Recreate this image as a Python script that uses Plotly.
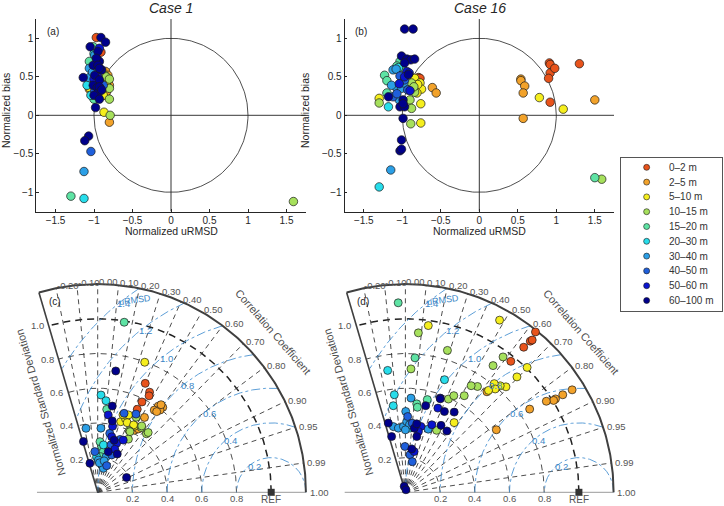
import numpy as np
import plotly.graph_objects as go

FONT = "Liberation Sans, Arial, Helvetica, sans-serif"
W, H = 724, 506

# ---------------- data ----------------
depth_labels = ["0–2 m", "2–5 m", "5–10 m", "10–15 m", "15–20 m",
                "20–30 m", "30–40 m", "40–50 m", "50–60 m", "60–100 m"]
depth_colors = ["#E8531B", "#F2A22A", "#F5EE1E", "#A6E05C", "#5EE3A4",
                "#27DDEB", "#2B9FE6", "#1F5FDB", "#0A14CF", "#00008B"]

# (a) Case 1 target diagram
a_urmsd = [-0.97, -0.91,
           -0.85, -0.82, -1.06, -0.82, -0.80, -0.86, -0.85, -0.80, -0.84, -0.88,
           -1.06, -0.88, -0.87, -0.84, -0.90,
           -0.86, -0.84, -0.80, -0.80, -0.79, -0.80, 1.59,
           -1.01, -1.06, -1.00, -1.30, -0.98,
           -1.09, -1.04, -1.00, -1.13,
           -0.99, -1.06, -1.06, -1.02, -1.13, -0.94,
           -0.97, -0.99, -0.88, -0.99, -1.04, -0.95,
           -0.95, -0.93, -0.96, -0.92, -1.00,
           -0.91, -0.85, -1.05, -0.95, -0.93, -1.01, -0.90, -0.99, -1.14, -0.93, -1.01, -0.96,
           -0.95, -1.00, -0.93, -0.98, -1.07, -1.12, -0.97, -0.93, -0.90, -0.95, -0.93]
a_bias = [1.01, 0.82,
          0.57, 0.52, 0.34, 0.44, 0.39, 0.34, 0.26, -0.09, 0.30, 0.48,
          0.36, 0.26, 0.04, 0.42, 0.33,
          0.52, 0.50, 0.35, 0.21, 0.00, 0.47, -1.12,
          0.89, 0.70, 0.21, -1.05, 0.60,
          0.39, 0.26, 0.80, -1.08,
          0.78, 0.49, 0.61, 0.56, -0.73, 0.42,
          0.63, 0.44, 0.39, 0.32, -0.47, 0.25,
          0.50, 0.87, 0.73, 0.35, 0.47,
          1.01, 0.95, 0.89, 0.83, 0.70, 0.65, 0.59, 0.52, 0.49, 0.46, 0.39, 0.36,
          0.29, 0.26, 0.21, 0.10, -0.27, -0.33, 0.74, 0.37, 0.33, 0.65, 0.61]
a_depth = [0, 0,
           1, 1, 1, 1, 1, 1, 1, 1, 1, 1,
           2, 2, 2, 2, 2,
           3, 3, 3, 3, 3, 3, 3,
           4, 4, 4, 4, 4,
           5, 5, 5, 5,
           6, 6, 6, 6, 6, 6,
           7, 7, 7, 7, 7, 7,
           8, 8, 8, 8, 8,
           9, 9, 9, 9, 9, 9, 9, 9, 9, 9, 9, 9, 9, 9, 9, 9, 9, 9, 9, 9, 9, 9, 9]

# (b) Case 16 target diagram
b_urmsd = [-0.79, -0.77, 0.91, 0.92, 0.92, 0.98, 0.90, 1.30, 0.92,
           -0.61, -0.56, 0.54, 0.54, 0.59, 0.57, 0.57, 1.50,
           -0.84, -0.77, -0.75, -0.81, -1.30, -0.76, -0.76, 0.78, 1.09, -0.80,
           -0.88, -0.84, -0.90, -1.30, -0.88, -0.89, 1.59, -0.85,
           -1.03, -1.07, -1.23, -1.20, -1.20, 1.50, -1.00,
           -1.18, -1.30, -1.05,
           -1.12, -1.08, -1.07, -1.01, -1.14, -1.04, -1.15, -0.98,
           -1.03, -0.97, -1.12, -1.07, -0.93,
           -0.94, -0.91, -1.04, -0.97, -0.90,
           -0.97, -0.86, -1.01, -0.94, -0.89, -0.84, -0.97, -1.18, -1.03, -0.97, -0.99,
           -0.99, -1.01, -1.03, -1.01, -0.92, -0.99]
b_bias = [0.49, 0.48, 0.68, 0.66, 0.55, 0.61, 0.48, 0.67, 0.17,
          0.36, 0.29, 0.47, 0.45, 0.38, 0.29, -0.04, 0.20,
          0.48, 0.42, 0.34, 0.29, 0.22, 0.15, -0.10, 0.23, 0.08, 0.40,
          0.42, 0.30, 0.20, 0.16, 0.09, -0.11, -0.83, 0.37,
          0.70, 0.64, 0.52, 0.45, 0.29, -0.81, 0.62,
          0.11, -0.93, 0.62,
          0.59, 0.60, 0.35, 0.35, 0.39, 0.20, -0.71, 0.42,
          0.51, 0.46, 0.24, 0.28, 0.33,
          0.57, 0.55, 0.41, 0.50, 0.32,
          1.12, 1.12, 0.77, 0.73, 0.72, 0.73, 0.68, 0.24, 0.11, 0.11, 0.20,
          -0.04, -0.32, -0.46, -0.44, 0.53, 0.15]
b_depth = [0, 0, 0, 0, 0, 0, 0, 0, 0,
           1, 1, 1, 1, 1, 1, 1, 1,
           2, 2, 2, 2, 2, 2, 2, 2, 2, 2,
           3, 3, 3, 3, 3, 3, 3, 3,
           4, 4, 4, 4, 4, 4, 4,
           5, 5, 5,
           6, 6, 6, 6, 6, 6, 6, 6,
           7, 7, 7, 7, 7,
           8, 8, 8, 8, 8,
           9, 9, 9, 9, 9, 9, 9, 9, 9, 9, 9, 9, 9, 9, 9, 9, 9]

# (c) Case 1 Taylor diagram
c_std = [0.685, 0.65, 0.63, 0.58, 0.53,
         0.607, 0.617, 0.575, 0.595, 0.576, 0.623, 0.509, 0.416, 0.434,
         0.797, 0.428, 0.455, 0.48, 0.436, 0.438, 0.44, 0.47,
         0.399, 0.354, 0.45, 0.439, 0.451, 0.486, 0.459, 0.396,
         0.992, 0.481, 0.264, 0.292, 0.236, 0.206,
         0.561, 0.53, 0.205, 0.275,
         0.375, 0.37, 0.21, 0.186, 0.159, 0.142, 0.17, 0.185,
         0.48, 0.347, 0.331, 0.284, 0.23, 0.162, 0.235, 0.502,
         0.33, 0.303, 0.267, 0.335, 0.45, 0.39,
         0.707, 0.504, 0.304, 0.315, 0.242, 0.248, 0.187, 0.173, 0.42]
c_corr = [0.40, 0.46, 0.47, 0.44, 0.43,
          0.575, 0.608, 0.567, 0.604, 0.59, 0.586, 0.53, 0.51, 0.54,
          0.34, 0.31, 0.35, 0.37, 0.39, 0.49, 0.47, 0.31,
          0.456, 0.50, 0.56, 0.64, 0.645, 0.457, 0.553, 0.47,
          0.154, 0.108, 0.087, 0.045, 0.136, 0.09,
          0.034, 0.09, -0.03, 0.12,
          -0.18, 0.05, 0.23, 0.02, 0.145, 0.23, 0.06, 0.2,
          0.317, 0.20, 0.39, 0.27, 0.35, 0.32, -0.07, 0.44,
          0.245, 0.36, 0.37, 0.44, 0.135, 0.22,
          0.147, 0.167, -0.27, 0.30, 0.25, 0.455, 0.89, -0.26, 0.2]
c_depth = [0, 0, 0, 0, 0,
           1, 1, 1, 1, 1, 1, 1, 1, 1,
           2, 2, 2, 2, 2, 2, 2, 2,
           3, 3, 3, 3, 3, 3, 3, 3,
           4, 4, 4, 4, 4, 4,
           5, 5, 5, 5,
           6, 6, 6, 6, 6, 6, 6, 6,
           7, 7, 7, 7, 7, 7, 7, 7,
           8, 8, 8, 8, 8, 8,
           9, 9, 9, 9, 9, 9, 9, 9, 9]

# (d) Case 16 Taylor diagram
d_std = [1.19, 1.13, 1.142, 1.079, 0.969,
         1.128, 1.067, 1.019, 1.005, 0.967, 0.862, 0.636, 0.746,
         1.131, 0.97, 1.005, 0.925, 0.84, 0.822, 0.809, 0.789, 0.758, 0.49,
         0.922, 0.853, 0.712, 0.962, 0.888, 0.738, 0.722, 0.592, 0.623, 0.652, 0.40,
         1.093, 0.777, 0.514, 0.495, 0.549,
         0.71, 0.687, 0.566, 0.504, 0.371,
         0.544, 0.385, 0.372, 0.379, 0.408, 0.466, 0.387, 0.39, 0.36,
         0.437, 0.264, 0.218, 0.181, 0.40,
         0.579, 0.52, 0.39, 0.418, 0.358, 0.24,
         0.513, 0.575, 0.517, 0.541, 0.411, 0.373, 0.40, 0.328, 0.437, 0.427, 0.331, 0.252, 0.035, 0.015]
d_corr = [0.63, 0.637, 0.64, 0.632, 0.627,
          0.852, 0.85, 0.849, 0.85, 0.84, 0.831, 0.824, 0.63,
          0.48, 0.136, 0.698, 0.695, 0.69, 0.665, 0.633, 0.656, 0.632, 0.573,
          0.081, 0.284, 0.045, 0.585, 0.569, 0.563, 0.525, 0.419, 0.448, 0.52, 0.45,
          -0.038, 0.071, 0.127, 0.14, 0.23,
          -0.144, 0.328, -0.113, -0.139, 0.072,
          0.059, -0.18, -0.11, -0.03, 0.018, 0.004, 0.34, 0.06, 0.0,
          0.03, -0.01, 0.12, 0.22, 0.10,
          0.346, 0.36, 0.23, 0.364, 0.21, 0.21,
          0.228, 0.35, 0.435, 0.52, -0.24, 0.137, 0.163, 0.2, 0.47, 0.56, -0.24, 0.145, -0.2, 0.2]
d_depth = [0, 0, 0, 0, 0,
           1, 1, 1, 1, 1, 1, 1, 1,
           2, 2, 2, 2, 2, 2, 2, 2, 2, 2,
           3, 3, 3, 3, 3, 3, 3, 3, 3, 3, 3,
           4, 4, 4, 4, 4,
           5, 5, 5, 5, 5,
           6, 6, 6, 6, 6, 6, 6, 6, 6,
           7, 7, 7, 7, 7,
           8, 8, 8, 8, 8, 8,
           9, 9, 9, 9, 9, 9, 9, 9, 9, 9, 9, 9, 9, 9]

target_ticks_x = [-1.5, -1, -0.5, 0, 0.5, 1, 1.5]
target_ticks_y = [-1, -0.5, 0, 0.5, 1]
corr_ticks = [-0.2, -0.1, 0.0, 0.1, 0.2, 0.3, 0.4, 0.5, 0.6, 0.7, 0.8, 0.9, 0.95, 0.99, 1.0]
std_ticks = [0.2, 0.4, 0.6, 0.8, 1.0]
urmsd_levels = [0.2, 0.4, 0.6, 0.8, 1.0, 1.2, 1.4]

# ---------------- figure ----------------
fig = go.Figure()
annotations = []

def line(x, y, xa, ya, color, width, dash=None):
    fig.add_trace(go.Scatter(x=list(x), y=list(y), xaxis=xa, yaxis=ya, mode="lines",
                             line=dict(color=color, width=width, dash=dash),
                             hoverinfo="skip", showlegend=False, connectgaps=False))

def points(x, y, depth, xa, ya, size=8.5):
    for k in range(10):
        idx = [i for i, d in enumerate(depth) if d == k]
        if not idx:
            continue
        fig.add_trace(go.Scatter(x=[x[i] for i in idx], y=[y[i] for i in idx], xaxis=xa, yaxis=ya,
                                 mode="markers",
                                 marker=dict(color=depth_colors[k], size=size,
                                             line=dict(color="#1a1a1a", width=0.7)),
                                 name=depth_labels[k], showlegend=False))

def ann(text, x, y, xref, yref, size=10, color="#262626", xanchor="center", yanchor="middle",
        angle=0, italic=False, xshift=0, yshift=0):
    annotations.append(dict(text=text, x=x, y=y, xref=xref, yref=yref, showarrow=False,
                            xanchor=xanchor, yanchor=yanchor, textangle=angle,
                            xshift=xshift, yshift=yshift, borderpad=0,
                            font=dict(family=FONT, size=size, color=color,
                                      style="italic" if italic else "normal")))

# ---- target diagrams (a) and (b)
tt = np.linspace(0, 2 * np.pi, 300)
for xa, ya, ux, bb, dd, lab in [("x", "y", a_urmsd, a_bias, a_depth, "(a)"),
                                ("x2", "y2", b_urmsd, b_bias, b_depth, "(b)")]:
    line([-1.75, 1.75], [0, 0], xa, ya, "#222222", 0.9)
    line([0, 0], [-1.25, 1.25], xa, ya, "#333333", 1.0)
    line(np.cos(tt), np.sin(tt), xa, ya, "#222222", 0.8)
    points(ux, bb, dd, xa, ya)
    ann(lab, -1.53, 1.086, xa, ya, size=10)

# ---- Taylor diagrams (c) and (d)
THMAX = np.deg2rad(106.4)
RMAX = 1.2
GRID = "#3a3a3a"
BLUE = "#4c94d2"

for xa, ya, ss, cc, dd, lab in [("x3", "y3", c_std, c_corr, c_depth, "(c)"),
                                ("x4", "y4", d_std, d_corr, d_depth, "(d)")]:
    th = np.linspace(0, THMAX, 200)
    line([-0.35, RMAX], [0, 0], xa, ya, "#9a9a9a", 1.0)
    for r in std_ticks:
        if r == 1.0:
            line(r * np.cos(th), r * np.sin(th), xa, ya, "#222222", 1.5, "7px,5px")
        else:
            line(r * np.cos(th), r * np.sin(th), xa, ya, GRID, 0.9, "6px,5px")
    for c in corr_ticks[:-1]:
        a = np.arccos(c)
        line([0, RMAX * np.cos(a)], [0, RMAX * np.sin(a)], xa, ya, GRID, 0.9, "5px,4px")
    t = np.linspace(0, np.pi, 500)
    for rr in urmsd_levels:
        cx = 1 + rr * np.cos(t)
        cy = rr * np.sin(t)
        ok = (np.hypot(cx, cy) <= RMAX) & (np.arctan2(cy, cx) <= THMAX)
        line([float(v) if m else None for v, m in zip(cx, ok)],
             [float(v) if m else None for v, m in zip(cy, ok)], xa, ya, BLUE, 0.9, "dashdot")
        la = np.deg2rad(128 if rr > 0.3 else 123)
        ann(f"{rr:.1f}", 1 + (rr - 0.02) * np.cos(la), (rr - 0.02) * np.sin(la), xa, ya,
            size=9.5, color="#3a86c6")
    ann("uRMSD", 0.215, 1.108, xa, ya, size=9, color="#3a86c6", angle=-8)
    line(RMAX * np.cos(th), RMAX * np.sin(th), xa, ya, "#404040", 2.0)
    line([0, RMAX * np.cos(THMAX)], [0, RMAX * np.sin(THMAX)], xa, ya, "#404040", 1.6)
    fig.add_trace(go.Scatter(x=[1.0], y=[0.0], xaxis=xa, yaxis=ya, mode="markers",
                             marker=dict(symbol="square", size=7, color="#333333"),
                             hoverinfo="skip", showlegend=False, cliponaxis=False))
    sarr = np.array(ss)
    carr = np.array(cc)
    px = (sarr * carr).tolist()
    py = (sarr * np.sqrt(1 - carr ** 2)).tolist()
    points(px, py, dd, xa, ya, size=8)
    for c in corr_ticks:
        a = np.arccos(c)
        ann(f"{c:.2f}", 1.215 * np.cos(a), 1.215 * np.sin(a), xa, ya, size=9.5, color="#555555",
            xanchor="left")
    for r in std_ticks:
        ann(f"{r:.1f}", r * np.cos(THMAX), r * np.sin(THMAX), xa, ya, size=9.5, color="#555555",
            xanchor="right", xshift=-4)
    for r in std_ticks[:-1]:
        ann(f"{r:.1f}", r, -0.038, xa, ya, size=9.5, color="#555555")
    ann("REF", 1.0, -0.04, xa, ya, size=10, color="#555555")
    ann(lab, -0.245, 1.099, xa, ya, size=10)
    ann("Correlation Coefficient", 1.013, 0.925, xa, ya, size=11, color="#4d4d4d", angle=49)
    ann("Normalized Standard Deviation", -0.33, 0.52, xa, ya, size=11, color="#4d4d4d",
        angle=-106.4)

# ---- custom legend
fig.add_trace(go.Scatter(x=[0.254] * 10, y=list(range(10)), xaxis="x5", yaxis="y5", mode="markers",
                         marker=dict(color=depth_colors, size=6, line=dict(color="#1a1a1a", width=0.6)),
                         hoverinfo="skip", showlegend=False))
for i, lab in enumerate(depth_labels):
    ann(lab, 0.465, i, "x5", "y5", size=10, color="#333333", xanchor="left")

# ---- titles / axis titles
ann("Case 1", 171 / W, 1 - 8 / H, "paper", "paper", size=14, italic=True)
ann("Case 16", 480 / W, 1 - 8 / H, "paper", "paper", size=14, italic=True)
ann("Normalized uRMSD", 171 / W, 1 - 231 / H, "paper", "paper", size=10.5)
ann("Normalized uRMSD", 479.3 / W, 1 - 231 / H, "paper", "paper", size=10.5)
ann("Normalized bias", 6 / W, 1 - 111 / H, "paper", "paper", size=10.5, angle=-90)
ann("Normalized bias", 305 / W, 1 - 111 / H, "paper", "paper", size=10.5, angle=-90)

def xdom(p0, p1):
    return [p0 / W, p1 / W]

def ydom(top, bottom):
    return [1 - bottom / H, 1 - top / H]

top_style = dict(showline=True, linecolor="#262626", linewidth=0.8, ticks="inside", ticklen=3,
                 tickwidth=0.8, tickcolor="#262626", showgrid=False, zeroline=False,
                 tickfont=dict(family=FONT, size=10, color="#262626"))
hidden = dict(visible=False, showgrid=False, zeroline=False)

S = 173.5
fig.update_layout(
    width=W, height=H, margin=dict(l=0, r=0, t=0, b=0),
    paper_bgcolor="white", plot_bgcolor="rgba(0,0,0,0)",
    font=dict(family=FONT, size=10, color="#262626"),
    showlegend=False,
    xaxis=dict(domain=xdom(36.25, 305.75), range=[-1.75, 1.75], anchor="y", tickvals=target_ticks_x, **top_style),
    yaxis=dict(domain=ydom(19.05, 211.55), range=[-1.25, 1.25], anchor="x", tickvals=target_ticks_y, **top_style),
    xaxis2=dict(domain=xdom(344.55, 614.05), range=[-1.75, 1.75], anchor="y2", tickvals=target_ticks_x, **top_style),
    yaxis2=dict(domain=ydom(19.05, 211.55), range=[-1.25, 1.25], anchor="x2", tickvals=target_ticks_y, **top_style),
    xaxis3=dict(domain=xdom(97.7 - 0.4 * S, 97.7 + 1.3 * S), range=[-0.4, 1.3], anchor="y3", **hidden),
    yaxis3=dict(domain=ydom(492.3 - 1.25 * S, 492.3 + 0.05 * S), range=[-0.05, 1.25], anchor="x3", **hidden),
    xaxis4=dict(domain=xdom(405.4 - 0.4 * S, 405.4 + 1.3 * S), range=[-0.4, 1.3], anchor="y4", **hidden),
    yaxis4=dict(domain=ydom(492.3 - 1.25 * S, 492.3 + 0.05 * S), range=[-0.05, 1.25], anchor="x4", **hidden),
    xaxis5=dict(domain=xdom(621, 722), range=[0, 1], anchor="y5", showline=True, mirror=True,
                linecolor="#555555", linewidth=0.8, showticklabels=False, ticks="", showgrid=False,
                zeroline=False),
    yaxis5=dict(domain=ydom(158.3, 310.7), range=[9.69, -0.61], anchor="x5", showline=True, mirror=True,
                linecolor="#555555", linewidth=0.8, showticklabels=False, ticks="", showgrid=False,
                zeroline=False),
    annotations=annotations,
)

fig.write_html("out.html", config={"displayModeBar": False},
               post_script="document.body.style.margin='0px';document.body.style.overflow='hidden';")
